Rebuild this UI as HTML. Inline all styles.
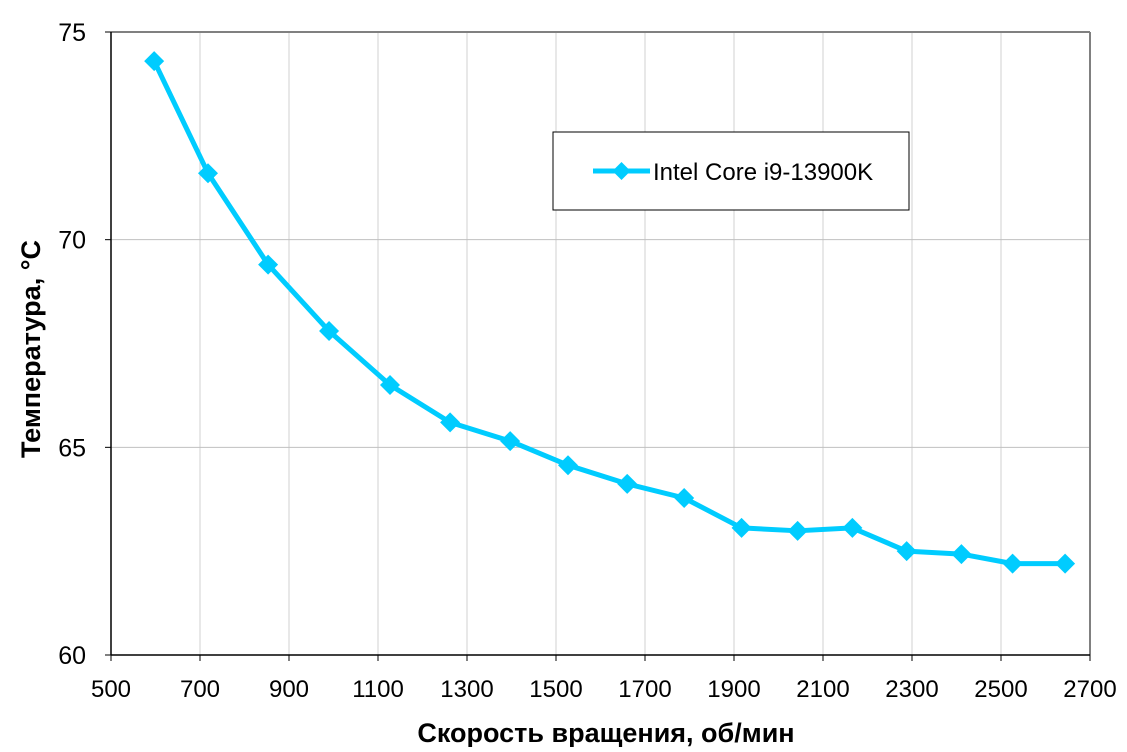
<!DOCTYPE html>
<html><head><meta charset="utf-8"><style>
body{margin:0;background:#fff}
svg text{font-family:"Liberation Sans",Arial,sans-serif}
</style></head><body>
<svg id="chart" width="1127" height="747" viewBox="0 0 1127 747">
<g id="grid"></g>
<g id="axes"></g>
<g id="series"></g>
<g>
<rect x="553" y="132" width="356" height="78" fill="#fff" stroke="#000" stroke-width="1"/>
<line x1="593" y1="171" x2="650" y2="171" stroke="#00CCFF" stroke-width="5"/>
<path d="M621.5 162 L630.5 171 L621.5 180 L612.5 171Z" fill="#00CCFF"/>
<text x="653" y="180" font-size="24" fill="#000">Intel Core i9-13900K</text>
</g>
<text x="606" y="742" font-size="27" font-weight="bold" text-anchor="middle">Скорость вращения, об/мин</text>
<text transform="translate(40,349) rotate(-90)" font-size="27" font-weight="bold" text-anchor="middle">Температура, °C</text>
</svg>
<script>
const rpm=[597,718,853,990,1127,1262,1397,1527,1660,1788,1917,2043,2166,2288,2411,2526,2644];
const temps=[74.3,71.6,69.4,67.8,66.5,65.6,65.15,64.57,64.12,63.78,63.06,62.99,63.06,62.5,62.43,62.2,62.2];
const xTicks=[500,700,900,1100,1300,1500,1700,1900,2100,2300,2500,2700];
const yTicks=[60,65,70,75];
const L=111,R=1090,T=32,B=655;
const xs=v=>L+(v-500)/2200*(R-L);
const ys=v=>B-(v-60)/15*(B-T);
const NS="http://www.w3.org/2000/svg";
function mk(tag,attrs,parent){const e=document.createElementNS(NS,tag);for(const k in attrs)e.setAttribute(k,attrs[k]);parent.appendChild(e);return e;}
const grid=document.getElementById('grid'),axes=document.getElementById('axes'),series=document.getElementById('series');
xTicks.forEach(t=>{
 const x=xs(t);
 if(t>500&&t<2700){const g=mk('line',{x1:x,y1:T,x2:x,y2:B,stroke:'#d0d0d0','stroke-width':1},grid);
 
 }
 mk('line',{x1:x,y1:B,x2:x,y2:B+6,stroke:'#000','stroke-width':1},axes);
 const tx=mk('text',{x:x,y:B+42,'font-size':24,'text-anchor':'middle'},axes);tx.textContent=t;
 
 
});
yTicks.forEach(t=>{
 const y=ys(t);
 if(t>60&&t<75){const g=mk('line',{x1:L,y1:y,x2:R,y2:y,stroke:'#c0c0c0','stroke-width':1},grid);
 
 }
 mk('line',{x1:L-6,y1:y,x2:L,y2:y,stroke:'#000','stroke-width':1},axes);
 const tx=mk('text',{x:L-25,y:y+9,'font-size':25,'text-anchor':'end'},axes);tx.textContent=t;
 
 
});
mk('line',{x1:L,y1:T,x2:R,y2:T,stroke:'#808080','stroke-width':2},axes);
mk('line',{x1:R,y1:T,x2:R,y2:B,stroke:'#808080','stroke-width':2},axes);
mk('line',{x1:L,y1:T,x2:L,y2:B,stroke:'#000','stroke-width':1.5},axes);
mk('line',{x1:L,y1:B,x2:R,y2:B,stroke:'#000','stroke-width':1.5},axes);
const pts=rpm.map((r,i)=>xs(r)+','+ys(temps[i])).join(' ');
const pl=mk('polyline',{points:pts,fill:'none',stroke:'#00CCFF','stroke-width':5,'stroke-linejoin':'round'},series);


rpm.forEach((r,i)=>{const x=xs(r),y=ys(temps[i]);
 const m=mk('path',{d:`M${x} ${y-10} L${x+10} ${y} L${x} ${y+10} L${x-10} ${y}Z`,fill:'#00CCFF'},series);
 
 
});
</script>
</body></html>
